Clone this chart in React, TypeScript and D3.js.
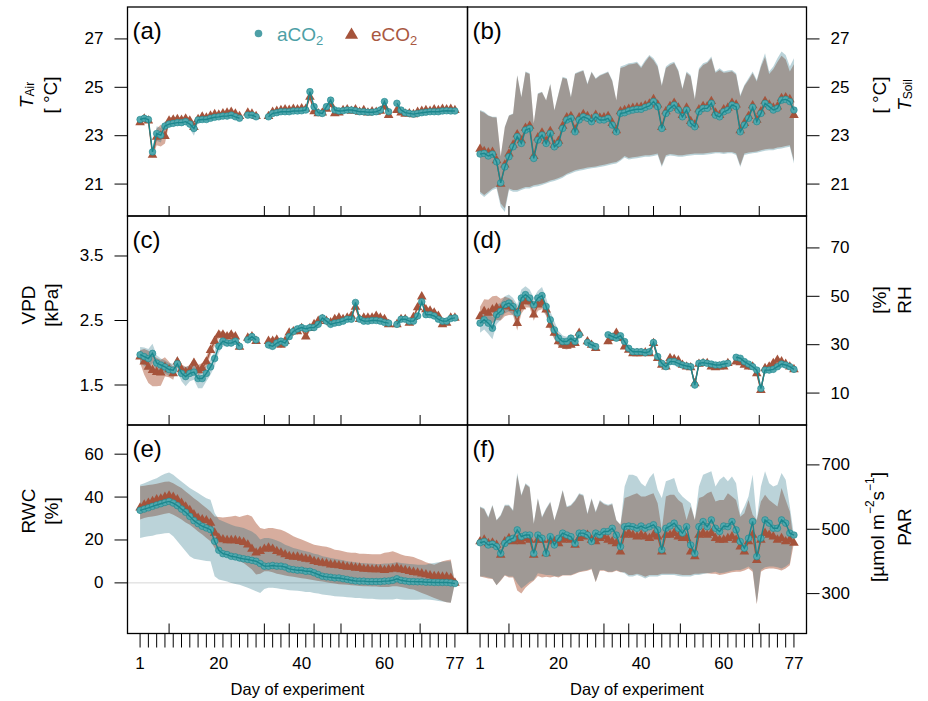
import React from "react";
import * as d3 from "d3";

// ---------------- data ----------------
const DAYS = d3.range(1, 78);
const EVENT_DAYS = [8, 31, 37, 43, 49.5, 68.6];
const X_LABELS = [1, 20, 40, 60, 77];

// (a) air temperature, daily mean and sd
const tairA = [23.67,23.72,23.67,22.33,23.09,23.02,23.40,23.48,23.51,23.54, 23.54,23.58,23.48,23.30,23.65,23.67,23.67,23.72,23.76,23.78, 23.81,23.81,23.85,23.78,23.72,null,23.85,23.85,23.78,null, null,23.78,23.92,23.95,23.99,23.99,23.99,24.02,24.02,24.03, 24.06,24.82,24.20,23.95,23.92,24.20,24.47,24.06,24.02,24.03, 24.06,24.06,24.03,23.99,23.99,23.97,23.97,23.99,24.06,24.41, 23.99,null,24.34,24.06,23.95,23.92,23.89,23.92,23.95,23.97, 23.99,23.99,23.99,24.02,24.03,24.02,24.02];
const tairE = [23.55,23.70,23.62,22.20,22.95,23.00,22.98,23.62,23.66,23.68, 23.65,23.70,23.62,23.35,23.68,23.78,23.74,23.82,23.88,23.86, 23.92,23.95,23.98,23.90,23.80,null,23.95,23.90,23.80,null, null,23.80,23.98,24.02,24.05,24.08,24.06,24.10,24.08,24.12, 24.10,24.60,24.00,23.92,23.95,24.10,24.30,23.92,23.95,24.05, 24.08,24.02,24.08,23.98,24.05,23.95,24.00,23.98,24.02,24.20, 23.85,null,24.05,23.95,23.90,23.92,23.88,23.98,24.02,24.05, 24.02,24.08,24.05,24.10,24.08,24.10,24.05];
const tairAsd = [0.08,0.08,0.08,0.15,0.3,0.3,0.2,0.12,0.1,0.1, 0.1,0.1,0.2,0.3,0.12,0.1,0.08,0.08,0.08,0.08, 0.08,0.08,0.08,0.08,0.1,0,0.08,0.08,0.08,0, 0,0.08,0.07,0.07,0.07,0.07,0.07,0.07,0.07,0.07, 0.07,0.1,0.08,0.07,0.07,0.08,0.1,0.07,0.07,0.07, 0.07,0.07,0.07,0.07,0.07,0.07,0.07,0.07,0.07,0.1, 0.07,0,0.1,0.07,0.07,0.07,0.07,0.07,0.07,0.07, 0.07,0.07,0.07,0.07,0.07,0.07,0.07];
const tairEsd = [0.1,0.1,0.1,0.12,0.35,0.45,0.3,0.15,0.1,0.1, 0.1,0.1,0.12,0.15,0.1,0.08,0.08,0.08,0.08,0.08, 0.08,0.08,0.08,0.08,0.1,0,0.08,0.08,0.08,0, 0,0.08,0.07,0.07,0.07,0.07,0.07,0.07,0.07,0.07, 0.07,0.1,0.08,0.07,0.07,0.08,0.1,0.07,0.07,0.07, 0.07,0.07,0.07,0.07,0.07,0.07,0.07,0.07,0.07,0.1, 0.07,0,0.1,0.07,0.07,0.07,0.07,0.07,0.07,0.07, 0.07,0.07,0.07,0.07,0.07,0.07,0.07];

// (b) soil temperature, mean with lower / upper band
const tsoilA = [22.24,22.27,22.16,22.24,21.92,21.05,21.71,22.13,22.54,22.96, 22.68,23.23,23.30,22.06,22.82,23.03,22.68,23.09,22.54,22.68, 23.30,23.65,23.72,23.16,23.65,23.78,23.72,23.58,23.78,23.65, 23.65,23.72,23.44,23.16,23.92,23.95,24.02,24.06,24.09,24.09, 24.17,24.23,24.41,24.20,23.30,23.92,24.13,24.27,24.06,23.78, 24.06,23.51,23.37,23.99,24.13,24.13,24.34,23.85,23.78,23.99, 24.06,24.27,24.20,23.16,23.44,23.72,24.17,23.58,23.92,24.34, 24.20,24.06,24.13,24.47,24.50,24.41,24.06];
const tsoilE = [22.45,22.35,22.30,22.32,21.98,21.00,21.80,22.25,22.62,23.05, 22.80,23.32,23.40,22.15,22.92,23.12,22.78,23.18,22.62,22.78, 23.40,23.75,23.80,23.25,23.75,23.88,23.80,23.68,23.85,23.74, 23.75,23.80,23.52,23.22,24.00,24.05,24.10,24.14,24.16,24.18, 24.25,24.32,24.50,24.28,23.35,24.00,24.22,24.35,24.15,23.85, 24.15,23.60,23.45,24.08,24.22,24.20,24.42,23.95,23.85,24.08, 24.15,24.35,24.28,23.22,23.52,23.80,24.25,23.65,24.00,24.42, 24.28,24.15,24.20,24.55,24.58,24.50,23.85];
const tsoilAhi = [24.06,23.99,23.85,23.78,23.78,22.13,23.37,23.85,23.92,25.51, 24.61,25.65,25.58,23.51,24.75,24.82,24.47,25.16,24.06,24.75, 25.44,25.37,24.61,25.58,25.65,25.72,25.16,25.65,25.37,25.51, 25.58,25.65,25.30,24.47,25.86,25.92,25.99,26.02,26.06,25.86, 26.13,26.34,26.20,25.92,25.10,25.86,25.99,26.06,25.72,24.96, 25.65,25.51,24.54,25.79,25.99,26.06,26.27,25.65,25.79,25.65, 25.69,25.72,25.58,24.68,25.10,25.37,25.65,25.30,25.92,26.41, 25.65,25.86,26.20,26.48,26.34,25.86,26.20];
const tsoilAlo = [20.61,20.47,20.61,20.75,20.82,20.06,19.85,20.75,20.68,20.68, 20.75,20.82,20.82,20.89,20.91,20.96,21.02,21.09,21.13,21.19, 21.26,21.37,21.44,21.51,21.55,21.58,21.62,21.65,21.67,21.71, 21.74,21.78,21.82,21.85,21.96,22.10,22.02,22.05,22.07,22.10, 22.13,22.13,22.16,22.20,21.71,22.13,22.18,22.16,22.13,22.13, 22.16,22.18,22.20,22.20,22.20,22.22,22.24,22.27,22.27,22.24, 22.27,22.27,22.20,21.71,22.20,22.24,22.27,22.29,22.34,22.38, 22.40,22.40,22.45,22.47,22.51,22.54,21.85];
const tsoilEhi = [24.02,23.95,23.82,23.76,23.75,22.15,23.35,23.82,23.90,25.48, 24.58,25.62,25.55,23.50,24.72,24.80,24.45,25.12,24.04,24.72, 25.40,25.34,24.58,25.55,25.62,25.68,25.12,25.62,25.34,25.48, 25.55,25.62,25.26,24.45,25.80,25.85,25.94,25.96,26.00,25.80, 26.06,26.28,26.12,25.85,25.05,25.80,25.92,26.00,25.66,24.92, 25.60,25.45,24.50,25.72,25.92,26.00,26.20,25.60,25.72,25.60, 25.62,25.66,25.52,24.62,25.05,25.30,25.58,25.24,25.84,26.25, 25.55,25.75,26.05,26.30,26.15,25.65,25.95];
const tsoilElo = [20.68,20.55,20.68,20.82,20.90,20.20,20.00,20.82,20.75,20.75, 20.82,20.88,20.88,20.95,20.98,21.02,21.08,21.15,21.19,21.25, 21.32,21.43,21.50,21.57,21.61,21.64,21.68,21.71,21.73,21.77, 21.80,21.84,21.88,21.91,22.02,22.16,22.08,22.11,22.13,22.16, 22.19,22.19,22.22,22.26,21.77,22.19,22.24,22.22,22.19,22.19, 22.22,22.24,22.26,22.26,22.26,22.28,22.30,22.33,22.33,22.30, 22.33,22.33,22.26,21.77,22.26,22.30,22.33,22.35,22.40,22.44, 22.46,22.46,22.51,22.53,22.57,22.60,21.95];

// (c) vapour pressure deficit
const vpdA = [1.97,1.94,1.91,1.99,1.84,1.81,1.78,1.74,1.73,1.83, 1.68,1.63,1.68,1.70,1.60,1.60,1.68,1.78,1.91,2.10, 2.18,2.15,2.15,2.18,2.10,null,2.20,2.25,2.20,null, null,2.12,2.10,2.15,2.18,2.15,2.25,2.33,2.37,2.39, 2.37,2.39,2.39,2.44,2.54,2.49,2.44,2.46,2.47,2.49, 2.52,2.52,2.78,2.52,2.49,2.49,2.50,2.50,2.49,2.47, 2.46,null,2.44,2.52,2.52,2.49,2.49,2.57,2.79,2.59, 2.59,2.57,2.52,2.49,2.49,2.53,2.54];
const vpdE = [1.94,1.86,1.78,1.73,1.70,1.69,1.78,1.74,1.68,1.86, 1.74,1.70,1.73,1.84,1.73,1.76,1.86,2.04,2.18,2.28, 2.28,2.25,2.28,2.25,2.09,null,2.23,2.25,2.18,null, null,2.18,2.18,2.20,2.12,2.18,2.31,2.33,2.33,2.38, 2.25,2.38,2.44,2.49,2.52,2.49,2.47,2.52,2.54,2.52, 2.54,2.57,2.71,2.52,2.54,2.54,2.54,2.57,2.54,2.52, 2.44,null,2.44,2.52,2.52,2.46,2.55,2.70,2.87,2.67, 2.65,2.62,2.57,2.44,2.46,2.54,2.54];
const vpdAsd = [0.12,0.14,0.15,0.15,0.12,0.10,0.10,0.10,0.10,0.12, 0.12,0.15,0.12,0.12,0.15,0.15,0.12,0.12,0.12,0.10, 0.08,0.05,0.05,0.05,0.05,0,0.05,0.05,0.05,0, 0,0.06,0.06,0.05,0.05,0.05,0.05,0.05,0.04,0.04, 0.04,0.04,0.04,0.04,0.05,0.04,0.04,0.04,0.04,0.04, 0.04,0.04,0.05,0.04,0.04,0.04,0.04,0.04,0.04,0.04, 0.04,0,0.04,0.04,0.04,0.04,0.04,0.04,0.05,0.04, 0.04,0.04,0.04,0.04,0.04,0.04,0.04];
const vpdEsd = [0.10,0.20,0.25,0.25,0.22,0.20,0.15,0.12,0.10,0.08, 0.08,0.08,0.08,0.08,0.08,0.08,0.08,0.08,0.08,0.06, 0.05,0.05,0.05,0.05,0.05,0,0.05,0.05,0.05,0, 0,0.05,0.05,0.05,0.05,0.05,0.04,0.04,0.04,0.04, 0.04,0.04,0.04,0.04,0.04,0.04,0.04,0.04,0.04,0.04, 0.04,0.04,0.04,0.04,0.04,0.04,0.04,0.04,0.04,0.04, 0.04,0,0.04,0.04,0.04,0.04,0.04,0.04,0.04,0.04, 0.04,0.04,0.04,0.04,0.04,0.04,0.04];

// (d) relative humidity
const rhA = [38.9,40.3,38.9,36.8,42.4,43.8,46.5,47.2,45.8,43.1, 49.3,50.7,49.3,46.5,49.3,50.3,45.8,40.3,36.1,32.7, 31.3,31.3,32.7,31.3,34.1,null,30.9,29.9,29.2,null, null,34.1,33.4,32.7,33.7,31.3,28.5,27.1,27.1,27.1, 26.7,27.1,30.9,25.1,22.3,20.9,23.0,23.0,22.3,21.6, 21.2,20.9,13.3,22.3,22.6,22.3,22.0,21.6,21.6,22.0, 22.3,null,24.8,24.4,23.0,22.0,20.9,19.5,11.9,19.5, 19.5,19.8,20.9,22.0,21.6,20.9,19.8];
const rhE = [41.7,43.8,43.1,44.5,45.2,44.5,45.8,45.8,45.2,38.9, 45.8,47.9,47.9,42.4,46.5,47.2,44.5,38.2,34.8,31.3, 29.9,29.5,29.9,30.6,34.8,null,31.3,29.9,28.5,null, null,31.3,32.7,34.8,32.7,29.2,27.8,26.4,26.4,26.4, 26.7,26.4,30.6,24.4,21.6,20.9,24.4,24.0,23.4,21.6, 20.9,20.6,14.0,22.0,22.3,22.3,20.9,20.6,20.9,20.9, 22.3,null,23.0,22.6,21.6,20.9,20.9,18.1,11.2,20.2, 20.9,22.3,23.7,23.0,22.0,20.9,19.8];
const rhAsd = [4.0,4.0,4.5,4.5,4.0,3.5,3.5,3.5,3.5,3.5, 3.5,3.5,3.5,3.0,3.0,3.5,3.5,3.5,3.5,3.0, 2.5,2.0,1.5,1.5,1.5,0,1.2,1.2,1.2,0, 0,1.2,1.2,1.2,1.2,1.2,1.0,1.0,1.0,1.0, 1.0,1.0,1.5,1.0,1.5,1.0,1.0,1.0,1.0,1.0, 1.0,1.0,1.5,1.0,1.0,1.0,1.0,1.0,1.0,1.0, 1.0,0,1.0,1.0,1.0,1.0,1.0,1.0,1.5,1.0, 1.0,1.0,1.0,1.0,1.0,1.0,1.0];
const rhEsd = [4.0,5.0,5.5,5.5,5.0,4.5,4.0,3.5,3.0,3.0, 3.0,2.5,2.5,2.5,2.5,2.5,2.5,2.5,2.5,2.0, 1.5,1.5,1.2,1.2,1.2,0,1.2,1.2,1.2,0, 0,1.2,1.2,1.2,1.2,1.0,1.0,1.0,1.0,1.0, 1.0,1.0,1.0,1.0,1.0,1.0,1.0,1.0,1.0,1.0, 1.0,1.0,1.0,1.0,1.0,1.0,1.0,1.0,1.0,1.0, 1.0,0,1.0,1.0,1.0,1.0,1.0,1.0,1.0,1.0, 1.0,1.0,1.0,1.0,1.0,1.0,1.0];

// (e) relative water content
const rwcA = [33.8,34.4,35.0,35.7,36.3,36.9,37.5,38.0,37.2,36.0, 34.4,32.9,31.0,29.0,27.6,26.4,25.6,24.8,19.4,15.2, 13.6,13.2,12.4,12.1,11.6,11.2,10.9,10.5,10.1,9.0, 7.8,7.8,8.1,7.8,7.8,7.4,6.5,6.2,5.9,5.9, 5.4,5.4,4.7,3.9,3.1,2.8,2.6,2.3,2.3,1.9, 1.6,1.2,0.9,0.8,0.8,0.6,0.6,0.6,0.6,0.8, 0.9,1.2,1.9,1.2,0.9,0.6,0.6,0.5,0.5,0.3, 0.3,0.2,0.2,0.2,0.2,0.0,-0.3];
const rwcE = [35.0,36.4,37.2,38.0,38.8,39.2,40.0,40.6,40.0,38.8, 37.2,35.5,33.8,31.8,30.2,29.5,29.1,27.9,23.3,20.9, 20.2,19.8,19.8,19.8,19.4,18.9,17.8,15.8,14.0,14.7, 15.8,16.3,15.8,14.7,14.0,13.2,12.4,12.1,12.1,11.6, 11.2,10.9,10.1,9.6,9.3,9.0,8.5,8.4,8.1,7.8, 7.4,7.4,7.0,7.0,6.5,6.5,6.2,6.2,6.2,5.9, 6.2,6.5,7.0,6.2,5.9,5.4,5.0,4.7,4.3,3.9, 3.4,3.1,3.1,2.8,2.8,2.3,0.0];
const rwcAhi = [45.7,46.5,47.3,48.1,48.8,49.9,50.9,51.5,50.4,48.8, 47.3,45.7,44.2,43.1,41.9,40.6,39.5,38.8,32.6,29.5, 28.7,27.9,27.1,26.4,26.0,25.6,24.8,24.0,22.5,20.2, 20.9,20.9,20.5,19.8,18.9,17.8,17.1,16.3,15.8,15.2, 14.7,14.3,13.6,13.2,12.4,12.1,11.6,11.2,10.9,10.5, 10.1,9.9,9.6,9.3,9.3,9.0,9.0,8.8,8.8,9.0, 9.0,9.3,9.6,9.3,9.0,8.8,8.7,8.5,8.5,8.5, 9.0,9.3,9.6,9.9,10.1,10.1,-0.3];
const rwcAlo = [20.9,21.4,21.7,22.0,22.5,22.8,23.1,23.3,21.7,19.4, 17.1,14.7,12.4,11.2,10.9,10.5,10.2,10.1,3.1,1.6, 1.1,0.6,0.0,-0.5,-0.9,-1.6,-2.3,-3.1,-3.9,-4.7, -2.8,-2.3,-2.3,-2.5,-2.8,-3.1,-3.4,-3.6,-3.7,-3.9, -4.2,-4.3,-4.7,-5.0,-5.4,-5.6,-5.9,-6.2,-6.4,-6.5, -6.7,-6.8,-7.0,-7.1,-7.3,-7.4,-7.4,-7.6,-7.8,-7.8, -7.8,-7.8,-7.4,-7.8,-7.9,-7.9,-7.9,-7.9,-7.8,-7.8, -7.9,-8.1,-8.4,-8.7,-9.0,-9.3,-0.3];
const rwcEhi = [45.0,45.3,45.6,45.9,46.2,46.7,47.1,47.3,46.5,45.3, 44.2,42.6,41.1,39.5,38.0,36.4,34.9,33.3,31.0,30.7, 30.5,30.7,31.0,31.3,30.7,31.3,31.8,31.0,27.9,25.6, 25.1,25.6,25.6,25.1,24.8,24.0,22.9,21.7,20.9,20.2, 19.4,18.6,17.8,17.4,17.1,16.8,16.3,15.5,15.2,14.7, 14.3,14.0,14.0,13.6,13.6,13.5,13.3,13.3,13.3,14.0, 14.3,14.7,14.0,13.2,12.7,12.4,12.1,11.2,10.5,9.6, 9.0,8.5,9.3,10.1,10.5,10.9,0.0];
const rwcElo = [29.5,30.2,30.7,31.0,31.3,31.8,32.2,32.6,31.8,30.7, 29.5,28.2,27.1,25.6,24.0,22.5,20.9,19.4,16.3,14.0, 13.2,12.4,11.6,10.9,10.1,9.3,7.8,6.2,3.9,4.3, 5.4,5.4,5.0,4.3,3.9,3.4,3.1,2.8,2.5,2.2, 1.9,1.6,1.2,0.9,0.6,0.3,0.0,-0.3,-0.6,-0.8, -0.9,-1.1,-1.2,-1.4,-1.6,-1.6,-1.7,-1.7,-1.9,-1.9, -1.9,-1.6,-1.6,-1.9,-2.3,-2.8,-3.1,-3.9,-4.7,-5.4, -6.2,-7.0,-7.8,-8.5,-9.0,-9.3,0.0];

// (f) photosynthetically active radiation
const parA = [458,462,451,454,446,425,456,467,472,498, 477,482,482,425,482,472,425,477,451,472, 488,482,477,456,488,488,482,462,488,482, 493,493,503,482,446,508,510,508,503,510, 503,508,514,498,436,503,510,519,503,488, 508,451,425,508,524,508,529,503,493,510, 508,524,498,462,441,472,524,415,472,529, 519,503,503,529,519,488,482];
const parE = [462,467,456,458,451,420,462,472,462,467, 462,472,467,420,467,467,425,467,462,456, 467,472,467,451,472,477,482,467,462,472, 477,467,462,456,430,482,488,482,477,482, 477,472,482,477,430,482,482,488,477,472, 472,430,415,482,488,482,488,472,467,467, 472,477,467,446,430,462,482,404,467,488, 482,477,467,472,462,467,457];
const parAhi = [571,565,539,576,529,545,576,576,560,675, 607,643,633,519,597,539,565,586,529,571, 623,571,576,591,612,607,550,597,555,591, 581,576,581,529,514,633,669,669,664,643, 633,659,675,623,597,649,654,659,617,602, 591,581,529,633,669,675,680,633,654,664, 649,664,643,545,571,602,669,529,633,680, 643,633,638,675,654,571,482];
const parAlo = [353,353,350,347,326,342,358,353,353,332, 316,326,337,342,363,361,358,358,355,353, 358,358,358,363,368,371,373,378,337,373, 373,368,368,373,368,363,353,353,358,353, 347,353,353,353,358,358,358,358,355,353, 353,353,358,358,361,363,365,368,363,365, 368,371,373,373,378,384,373,269,373,382, 384,384,382,378,384,394,482];
const parEhi = [568,562,536,573,527,542,573,573,557,668, 604,640,630,516,594,536,562,583,527,568, 620,568,573,588,609,604,547,594,552,588, 578,573,578,527,514,597,602,607,612,602, 602,607,612,581,498,602,607,607,591,581, 529,571,529,597,602,612,617,586,591,591, 612,602,591,539,550,591,545,529,586,607, 591,581,571,628,591,555,457];
const parElo = [353,350,347,345,326,340,356,350,350,310, 300,318,330,340,355,350,352,350,353,350, 356,356,356,361,366,369,371,376,335,371, 371,366,366,371,366,366,358,358,362,358, 352,358,358,358,362,362,362,362,360,358, 358,358,362,362,363,363,362,362,358,360, 363,366,368,368,372,378,368,266,368,376, 378,378,376,372,378,388,457];

// ---------------- look ----------------
const FONT = "'Liberation Sans', Arial, Helvetica, sans-serif";
const TEAL_LINE = "#1b878d";
const TEAL_PT = "#52a8ae";
const TEAL_TEXT = "#4d9fa6";
const BROWN = "#a5533b";
const BROWN_TEXT = "#a9583f";
const TEAL_RIB = "rgba(30,110,130,0.3)";
const BROWN_RIB = "rgba(160,60,25,0.42)";

const COLS: [number, number][] = [[127.5, 467.5], [467.5, 806.5]];
const ROWS: [number, number][] = [[7, 216], [216, 425], [425, 633.5]];

type Val = number | null;
type Series = { mean: Val[]; lo: Val[]; hi: Val[] };

const withSd = (mean: Val[], sd: number[]): Series => ({
  mean,
  lo: mean.map((m, i) => (m == null ? null : m - sd[i])),
  hi: mean.map((m, i) => (m == null ? null : m + sd[i])),
});

type PanelDef = {
  key: string;
  col: number;
  row: number;
  domain: [number, number];
  ticks: number[];
  a: Series;
  e: Series;
  zeroLine?: boolean;
  labelGap?: number;
};

const panels: PanelDef[] = [
  { key: "a", col: 0, row: 0, domain: [20, 28], ticks: [21, 23, 25, 27], a: withSd(tairA, tairAsd), e: withSd(tairE, tairEsd) },
  { key: "b", col: 1, row: 0, domain: [20, 28], ticks: [21, 23, 25, 27], a: { mean: tsoilA, lo: tsoilAlo, hi: tsoilAhi }, e: { mean: tsoilE, lo: tsoilElo, hi: tsoilEhi } },
  { key: "c", col: 0, row: 1, domain: [1, 4], ticks: [1.5, 2.5, 3.5], a: withSd(vpdA, vpdAsd), e: withSd(vpdE, vpdEsd) },
  { key: "d", col: 1, row: 1, domain: [0, 80], ticks: [10, 30, 50, 70], a: withSd(rhA, rhAsd), e: withSd(rhE, rhEsd) },
  { key: "e", col: 0, row: 2, domain: [-20, 70], ticks: [0, 20, 40, 60], a: { mean: rwcA, lo: rwcAlo, hi: rwcAhi }, e: { mean: rwcE, lo: rwcElo, hi: rwcEhi }, zeroLine: true },
  { key: "f", col: 1, row: 2, domain: [200, 800], ticks: [300, 500, 700], a: { mean: parA, lo: parAlo, hi: parAhi }, e: { mean: parE, lo: parElo, hi: parEhi }, labelGap: 15 },
];

function Panel({ p }: { p: PanelDef }) {
  const [x0, x1] = COLS[p.col];
  const [y0, y1] = ROWS[p.row];
  const x = d3.scaleLinear().domain([1 - 0.04 * 76, 77 + 0.04 * 76]).range([x0, x1]);
  const span = p.domain[1] - p.domain[0];
  const y = d3.scaleLinear().domain([p.domain[0] - 0.04 * span, p.domain[1] + 0.04 * span]).range([y1, y0]);
  const idx = DAYS.map((_, i) => i);
  const area = (s: Series) =>
    d3.area<number>()
      .defined((i) => s.mean[i] != null && s.lo[i] != null)
      .x((i) => x(DAYS[i]))
      .y0((i) => y(s.lo[i] as number))
      .y1((i) => y(s.hi[i] as number))(idx) || "";
  const line = (s: Series) =>
    d3.line<number>()
      .defined((i) => s.mean[i] != null)
      .x((i) => x(DAYS[i]))
      .y((i) => y(s.mean[i] as number))(idx) || "";
  const pts = (s: Series) => idx.filter((i) => s.mean[i] != null);
  const tri = d3.symbol(d3.symbolTriangle, 40)() || "";
  const clipId = `clip-${p.key}`;
  const left = p.col === 0;
  const gap = p.labelGap ?? 24;
  const bottom = p.row === 2;
  return (
    <g>
      <defs>
        <clipPath id={clipId}>
          <rect x={x0} y={y0} width={x1 - x0} height={y1 - y0} />
        </clipPath>
      </defs>
      <g clipPath={`url(#${clipId})`}>
        {p.zeroLine && <line x1={x0} x2={x1} y1={y(0)} y2={y(0)} stroke="#d6d6d6" strokeWidth={1} />}
        <path d={area(p.e)} fill={BROWN_RIB} />
        <path d={area(p.a)} fill={TEAL_RIB} />
        <path d={line(p.e)} fill="none" stroke={BROWN} strokeWidth={1.3} />
        {pts(p.e).map((i) => (
          <path key={i} d={tri} transform={`translate(${x(DAYS[i])},${y(p.e.mean[i] as number)})`} fill={BROWN} />
        ))}
        {pts(p.a).map((i) => (
          <circle key={i} cx={x(DAYS[i])} cy={y(p.a.mean[i] as number)} r={3.3} fill={TEAL_PT} stroke={TEAL_LINE} strokeWidth={0.6} />
        ))}
        <path d={line(p.a)} fill="none" stroke={TEAL_LINE} strokeWidth={1.4} />
      </g>
      <rect x={x0} y={y0} width={x1 - x0} height={y1 - y0} fill="none" stroke="#000" strokeWidth={1.3} />
      {EVENT_DAYS.map((d) => (
        <line key={d} x1={x(d)} x2={x(d)} y1={y1} y2={y1 - 10} stroke="#000" strokeWidth={1} />
      ))}
      {p.ticks.map((t) => (
        <g key={t}>
          <line x1={left ? x0 - 13 : x1} x2={left ? x0 : x1 + 13} y1={y(t)} y2={y(t)} stroke="#000" strokeWidth={1} />
          <text
            x={left ? x0 - gap : x1 + gap}
            y={y(t)}
            textAnchor={left ? "end" : "start"}
            dominantBaseline="central"
            fontSize={17}
          >
            {t}
          </text>
        </g>
      ))}
      <text x={x0 + 5} y={y0 + 32} fontSize={24}>
        ({p.key})
      </text>
      {bottom && (
        <g>
          {DAYS.filter((d) => d % 2 === 1).map((d) => (
            <line key={d} x1={x(d)} x2={x(d)} y1={y1} y2={y1 + 14} stroke="#000" strokeWidth={1} />
          ))}
          {X_LABELS.map((d) => (
            <text key={d} x={x(d)} y={y1 + 30} textAnchor="middle" dominantBaseline="central" fontSize={17}>
              {d}
            </text>
          ))}
          <text x={(x0 + x1) / 2} y={y1 + 55} textAnchor="middle" dominantBaseline="central" fontSize={16.5}>
            Day of experiment
          </text>
        </g>
      )}
    </g>
  );
}

function YTitle({ x, y, children }: { x: number; y: number; children: React.ReactNode }) {
  return (
    <text transform={`translate(${x},${y}) rotate(-90)`} textAnchor="middle" dominantBaseline="central" fontSize={19}>
      {children}
    </text>
  );
}

export default function App() {
  const tri = d3.symbol(d3.symbolTriangle, 75)() || "";
  return (
    <svg
      width={928}
      height={701}
      style={{ position: "absolute", left: 0, top: 0, background: "#fff" }}
      fontFamily={FONT}
    >
      <rect width={928} height={701} fill="#fff" />
      {panels.map((p) => (
        <Panel key={p.key} p={p} />
      ))}

      {/* legend */}
      <circle cx={258.5} cy={33.5} r={3.8} fill={TEAL_TEXT} />
      <text x={277} y={40.5} fontSize={19} fill={TEAL_TEXT}>
        aCO<tspan fontSize={13} dy={4}>2</tspan>
      </text>
      <path d={tri} transform="translate(351.5,35)" fill={BROWN} />
      <text x={371} y={40.5} fontSize={19} fill={BROWN_TEXT}>
        eCO<tspan fontSize={13} dy={4}>2</tspan>
      </text>

      {/* left titles */}
      <YTitle x={26} y={95}>
        <tspan fontStyle="italic">T</tspan>
        <tspan fontSize={12} dy={4}>Air</tspan>
      </YTitle>
      <YTitle x={50} y={95}>[ °C]</YTitle>
      <YTitle x={28} y={305}>VPD</YTitle>
      <YTitle x={51} y={305}>[kPa]</YTitle>
      <YTitle x={28} y={511}>RWC</YTitle>
      <YTitle x={51} y={511}>[%]</YTitle>

      {/* right titles */}
      <YTitle x={879} y={95}>[ °C]</YTitle>
      <YTitle x={904} y={95}>
        <tspan fontStyle="italic">T</tspan>
        <tspan fontSize={12} dy={4}>Soil</tspan>
      </YTitle>
      <YTitle x={879} y={300}>[%]</YTitle>
      <YTitle x={904} y={300}>RH</YTitle>
      <YTitle x={877} y={527}>
        [µmol m<tspan fontSize={12} dy={-7}>−2</tspan>
        <tspan dy={7}>s</tspan>
        <tspan fontSize={12} dy={-7}>−1</tspan>
        <tspan dy={7}>]</tspan>
      </YTitle>
      <YTitle x={904} y={527}>PAR</YTitle>
    </svg>
  );
}
